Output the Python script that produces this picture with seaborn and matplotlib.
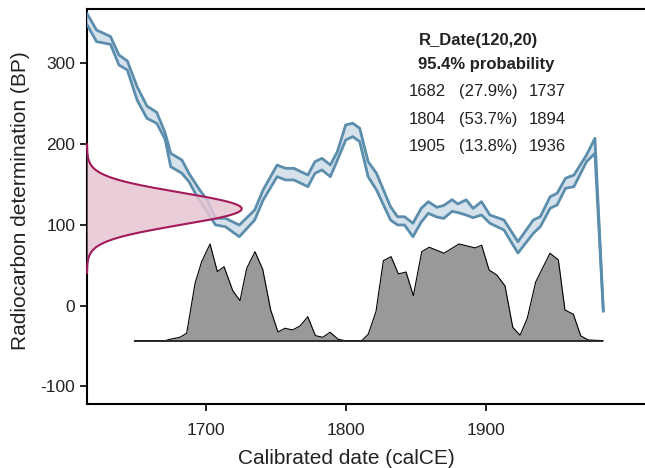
import numpy as np
import pandas as pd
import matplotlib
matplotlib.use("Agg")
import matplotlib.pyplot as plt
import seaborn as sns

# Calibration curve: calendar year (calCE), radiocarbon age (BP) and its error
cal_year = [1615, 1622, 1632, 1638, 1644, 1651, 1658, 1665, 1671, 1675,
            1683, 1688, 1695, 1701, 1707, 1714, 1724, 1735, 1741, 1751,
            1757, 1763, 1773, 1778, 1783, 1789, 1794, 1800, 1805, 1810,
            1816, 1822, 1832, 1837, 1842, 1848, 1854, 1859, 1865, 1870,
            1876, 1880, 1886, 1891, 1897, 1903, 1913, 1923, 1934, 1939,
            1946, 1951, 1957, 1963, 1972, 1978, 1984]
cal_bp = [355.4, 334.0, 328.3, 304.1, 297.3, 262.8, 239.5, 232.5, 210.0, 180.3,
          172.1, 158.7, 138.2, 123.6, 104.0, 103.0, 92.6, 112.3, 137.0, 166.9,
          162.8, 162.8, 154.5, 171.0, 175.2, 166.9, 185.3, 214.4, 217.5, 211.3,
          169.0, 153.5, 114.3, 105.0, 105.0, 93.7, 112.1, 121.5, 115.8, 116.0,
          124.0, 120.6, 121.6, 114.7, 120.5, 107.1, 99.9, 72.2, 97.8, 104.0,
          127.7, 131.9, 151.5, 154.5, 182.4, 197.9, -6.6]
cal_err = [6.8, 7.2, 4.8, 6.2, 5.6, 8.2, 7.6, 6.8, 4.0, 8.3,
           8.2, 5.1, 6.8, 7.2, 4.1, 5.2, 7.2, 6.2, 6.2, 7.2,
           7.2, 7.2, 7.2, 7.2, 7.2, 7.2, 5.3, 9.3, 8.3, 8.3,
           9.3, 10.3, 8.2, 5.1, 5.1, 8.3, 8.5, 7.2, 6.0, 8.0,
           7.2, 5.3, 9.4, 5.8, 8.2, 5.1, 6.2, 7.0, 8.2, 6.2,
           7.2, 7.2, 6.2, 7.2, 4.1, 9.3, 0.5]

# Calibrated date probability (relative to its maximum)
prob_year = [1649, 1671, 1674.5, 1681.6, 1686.4, 1692.4, 1697.1, 1703.1, 1708.3, 1713.1,
             1719.3, 1724.5, 1729.3, 1735.2, 1740.7, 1746.4, 1751.6, 1756.6, 1762.1, 1767.4,
             1772.9, 1778.3, 1783.6, 1788.8, 1794.7, 1799.5, 1811.4, 1816.1, 1821.6, 1826.9,
             1832.4, 1837.6, 1843.1, 1848.3, 1854.3, 1859.7, 1870.2, 1880.9, 1892.4, 1897.1,
             1902.4, 1907.9, 1913.8, 1919.3, 1924.5, 1929.7, 1935.7, 1945.9, 1951.9, 1956.6,
             1962.6, 1967.9, 1973.3, 1984]
prob_density = [0.0, 0.0, 0.014, 0.035, 0.077, 0.594, 0.817, 1.0, 0.714, 0.765,
                0.517, 0.414, 0.749, 0.920, 0.738, 0.317, 0.090, 0.128, 0.111, 0.152,
                0.248, 0.052, 0.035, 0.087, 0.014, 0.0, 0.0, 0.067, 0.300, 0.827,
                0.869, 0.690, 0.710, 0.465, 0.920, 0.966, 0.904, 1.0, 0.959, 0.987,
                0.731, 0.679, 0.566, 0.139, 0.056, 0.232, 0.607, 0.904, 0.835, 0.317,
                0.273, 0.049, 0.007, 0.0]

# Radiocarbon measurement
r_name = "R_Date(120,20)"
r_mean = 120
r_sigma = 20

# 95.4% highest probability ranges
range_from = [1682, 1804, 1905]
range_pct = ["27.9%", "53.7%", "13.8%"]
range_to = [1737, 1894, 1936]

sns.set_style("ticks")
plt.rcParams["font.family"] = ["Liberation Sans", "DejaVu Sans"]
plt.rcParams["axes.unicode_minus"] = False

fig = plt.figure(figsize=(6.45, 4.68), dpi=100)
x_min, x_max = 1615.2, 2020
y_min, y_max = -121.7, 366.6
ax_w = (x_max - x_min) * 1.4 / 645
ax = fig.add_axes([87 / 645, 64 / 468, ax_w, 394.5 / 468])

curve_line = "#5b8dac"
curve_fill = "#d5e2eb"
meas_line = "#a3195b"
meas_fill = "#e6c5d3"

# --- calibrated probability distribution along the bottom ---
prob = pd.DataFrame({"year": prob_year, "density": prob_density})
base_bp = -43.3
peak_bp = 119.7
prob["bp"] = base_bp + prob["density"] * peak_bp
ax.fill_between(prob["year"], base_bp, prob["bp"], color="#999999",
                linewidth=0, zorder=2)
sns.lineplot(data=prob, x="year", y="bp", ax=ax, color="black",
             linewidth=0.8, sort=False, estimator=None, zorder=3)
ax.plot([prob["year"].iloc[0], prob["year"].iloc[-1]], [base_bp, base_bp],
        color="#222222", linewidth=1.3, zorder=3, solid_capstyle="butt")

# --- calibration curve band ---
cal = pd.DataFrame({"year": cal_year, "bp": cal_bp, "err": cal_err})
cal["upper"] = cal["bp"] + cal["err"]
cal["lower"] = cal["bp"] - cal["err"]
ax.fill_between(cal["year"], cal["lower"], cal["upper"], color=curve_fill,
                linewidth=0, zorder=4)
for col in ["upper", "lower"]:
    sns.lineplot(data=cal, x="year", y=col, ax=ax, color=curve_line,
                 linewidth=2.0, sort=False, estimator=None, zorder=5)

# --- radiocarbon measurement on the age axis ---
meas_y = np.linspace(r_mean - 4 * r_sigma, r_mean + 4 * r_sigma, 300)
meas_pdf = np.exp(-0.5 * ((meas_y - r_mean) / r_sigma) ** 2)
meas_width = 110.5
meas_x = x_min + meas_width * meas_pdf
ax.fill_betweenx(meas_y, x_min, meas_x, color=meas_fill, alpha=0.85,
                 linewidth=0, zorder=6)
ax.plot(np.r_[x_min, meas_x, x_min], np.r_[meas_y[0], meas_y, meas_y[-1]],
        color=meas_line, linewidth=1.5, zorder=7, clip_on=False)

ax.set_xlim(x_min, x_max)
ax.set_ylim(y_min, y_max)
ax.set_xticks([1700, 1800, 1900])
ax.set_yticks([-100, 0, 100, 200, 300])
ax.tick_params(axis="both", labelsize=12.5, length=5, width=1.2,
               color="black", labelcolor="#222222", pad=3.5)
ax.tick_params(axis="x", pad=8.5)
for side in ["left", "bottom", "top"]:
    ax.spines[side].set_linewidth(1.5)
    ax.spines[side].set_color("black")
ax.spines["right"].set_visible(False)

ax.set_xlabel("Calibrated date (calCE)", fontsize=15, color="#222222")
ax.set_ylabel("Radiocarbon determination (BP)", fontsize=15, color="#222222")
ax.xaxis.set_label_coords((346.7 - 87) / (ax_w * 645), (9 - 64) / 394.5)
ax.yaxis.set_label_coords((20 - 87) / (ax_w * 645), (404 - 200.8) / 394.5)
ax.xaxis.label.set_va("center")
ax.yaxis.label.set_va("center")

# --- summary text ---
fig.text(478.3 / 645, 1 - 40 / 468, r_name, fontsize=12, fontweight="bold",
         ha="center", va="center", color="#222222")
fig.text(485.8 / 645, 1 - 65 / 468, "95.4% probability", fontsize=12,
         fontweight="bold", ha="center", va="center", color="#222222")
for i, (a, p, b) in enumerate(zip(range_from, range_pct, range_to)):
    yy = 1 - (91.5 + i * 27.6) / 468
    fig.text(408.3 / 645, yy, str(a), fontsize=12, ha="left", va="center",
             color="#222222")
    fig.text(459 / 645, yy, f"({p})", fontsize=12, ha="left", va="center",
             color="#222222")
    fig.text(528.3 / 645, yy, str(b), fontsize=12, ha="left", va="center",
             color="#222222")

fig.savefig("out.png", dpi=100)
